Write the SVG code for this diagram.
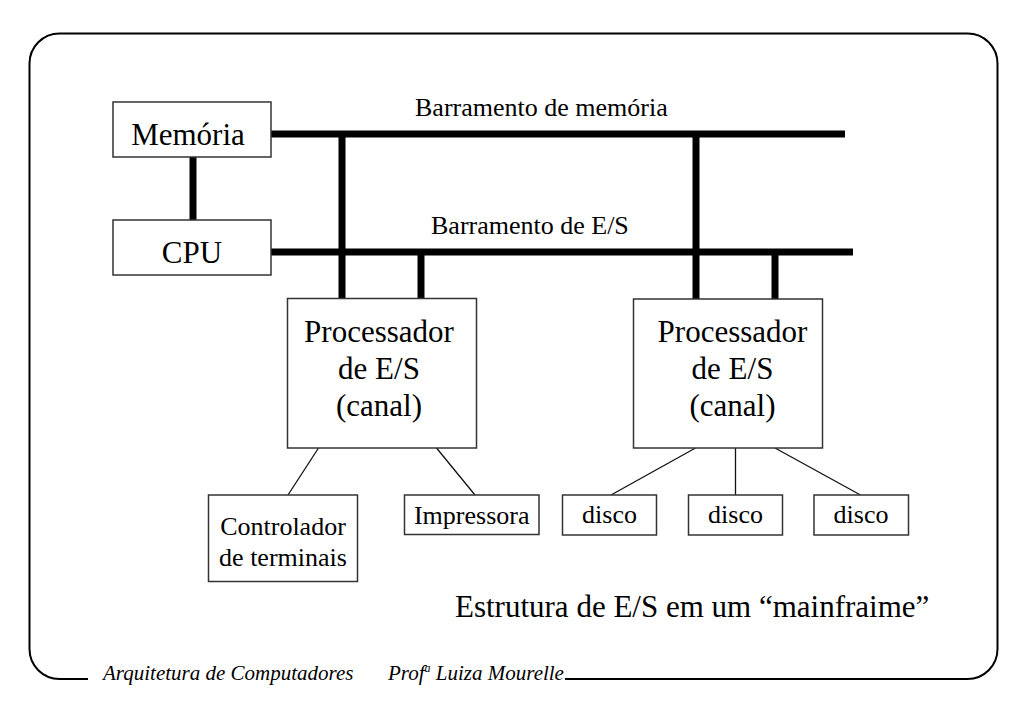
<svg xmlns="http://www.w3.org/2000/svg" width="1023" height="708" viewBox="0 0 1023 708">
<style>
.box{fill:#fff;stroke:#333;stroke-width:1.5}
.bus{stroke:#000;stroke-width:7;fill:none}
.ln{stroke:#111;stroke-width:1.3;fill:none}
.t{font-family:'Liberation Serif','Tinos','Times New Roman','DejaVu Serif',serif;fill:#000}
.big{font-size:31px}
.mid{font-size:26px}
.c{text-anchor:middle}
.foot{font-size:21px;font-style:italic}
</style>
<rect width="1023" height="708" fill="#fff"/>
<path id="frame" d="M 88,679 H 59.5 A 30 30 0 0 1 29.5 649 V 63.5 A 30 30 0 0 1 59.5 33.5 H 967.5 A 30 30 0 0 1 997.5 63.5 V 649 A 30 30 0 0 1 967.5 679 H 565" fill="none" stroke="#000" stroke-width="2"/>
<g id="connectors">
<line class="bus" x1="271" y1="134" x2="845" y2="134"/>
<line class="bus" x1="271" y1="252" x2="853" y2="252"/>
<line class="bus" x1="193" y1="157" x2="193" y2="220"/>
<line class="bus" x1="342" y1="134" x2="342" y2="298"/>
<line class="bus" x1="421" y1="252" x2="421" y2="298"/>
<line class="bus" x1="696" y1="134" x2="696" y2="299"/>
<line class="bus" x1="775" y1="252" x2="775" y2="299"/>
<line class="ln" x1="318.5" y1="448" x2="288" y2="495"/>
<line class="ln" x1="436.5" y1="448" x2="475" y2="495"/>
<line class="ln" x1="695.5" y1="448" x2="611" y2="495"/>
<line class="ln" x1="735.5" y1="448" x2="735.5" y2="495"/>
<line class="ln" x1="775" y1="448" x2="860.5" y2="495"/>
</g>
<g id="bus-labels">
<text class="t mid" x="415" y="116" font-family="Liberation Serif, serif">Barramento de memória</text>
<text class="t mid" x="431" y="234" font-family="Liberation Serif, serif">Barramento de E/S</text>
</g>
<g id="memoria">
<rect class="box" x="113" y="102" width="158" height="55"/>
<text class="t big c" x="188" y="145">Memória</text>
</g>
<g id="cpu">
<rect class="box" x="113" y="220" width="158" height="55"/>
<text class="t big c" x="192" y="263">CPU</text>
</g>
<g id="proc1">
<rect class="box" x="287.5" y="298.5" width="189" height="149.5"/>
<text class="t big c" x="379" y="342">Processador</text>
<text class="t big c" x="379" y="379">de E/S</text>
<text class="t big c" x="379" y="416">(canal)</text>
</g>
<g id="proc2">
<rect class="box" x="633.5" y="299" width="189" height="149"/>
<text class="t big c" x="732.5" y="342">Processador</text>
<text class="t big c" x="732.5" y="379">de E/S</text>
<text class="t big c" x="732.5" y="416">(canal)</text>
</g>
<g id="controlador">
<rect class="box" x="208.5" y="495" width="149" height="86.5"/>
<text class="t mid c" x="283" y="535">Controlador</text>
<text class="t mid c" x="283" y="566">de terminais</text>
</g>
<g id="impressora">
<rect class="box" x="404.5" y="495" width="134.5" height="39.5"/>
<text class="t mid c" x="471.7" y="524">Impressora</text>
</g>
<g id="disco1">
<rect class="box" x="562.5" y="495" width="94" height="40"/>
<text class="t mid c" x="609.5" y="523">disco</text>
</g>
<g id="disco2">
<rect class="box" x="688.5" y="495" width="94" height="40"/>
<text class="t mid c" x="735.5" y="523">disco</text>
</g>
<g id="disco3">
<rect class="box" x="814" y="495" width="94.5" height="40"/>
<text class="t mid c" x="861" y="523">disco</text>
</g>
<text class="t big" x="455" y="617">Estrutura de E/S em um “mainfraime”</text>
<text class="t foot" x="103" y="680">Arquitetura de Computadores</text>
<text class="t foot" x="388" y="680">Prof<tspan font-size="12" dy="-8">a</tspan><tspan dy="8"> Luiza Mourelle</tspan></text>
</svg>
